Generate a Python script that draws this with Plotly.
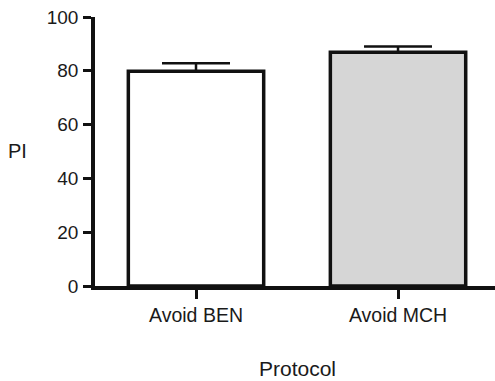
import plotly.graph_objects as go

# Preference index per protocol (mean with upper error)
protocols = ["Avoid BEN", "Avoid MCH"]
pi_mean = [79.8, 86.9]
pi_err = [3.0, 2.1]
fills = ["#ffffff", "#d6d6d6"]

y_ticks = [0, 20, 40, 60, 80, 100]

font = dict(family="Liberation Sans, Arial, sans-serif", color="#1a1a1a")

fig = go.Figure(
    go.Bar(
        x=[0, 1],
        y=pi_mean,
        width=0.67,
        marker=dict(color=fills, line=dict(color="#111111", width=3.5)),
        error_y=dict(
            type="data",
            array=pi_err,
            arrayminus=[0, 0],
            symmetric=False,
            color="#111111",
            thickness=2.5,
            width=34,
        ),
    )
)

fig.update_layout(
    width=495,
    height=381,
    margin=dict(l=95, r=0, t=17, b=95),
    paper_bgcolor="white",
    plot_bgcolor="white",
    showlegend=False,
    font=dict(size=19, **font),
    xaxis=dict(
        range=[-0.5, 1.48],
        tickvals=[0, 1],
        ticktext=protocols,
        ticks="outside",
        ticklen=9,
        tickwidth=3,
        tickcolor="#111111",
        showline=True,
        linewidth=3.5,
        linecolor="#111111",
        showgrid=False,
        zeroline=False,
        tickfont=dict(size=19.5, **font),
    ),
    yaxis=dict(
        range=[0, 100],
        tickvals=y_ticks,
        ticks="outside",
        ticklen=8,
        tickwidth=3,
        tickcolor="#111111",
        showline=True,
        linewidth=3.5,
        linecolor="#111111",
        showgrid=False,
        zeroline=False,
        tickfont=dict(size=19, **font),
        ticklabelstandoff=1,
    ),
    annotations=[
        dict(text="PI", xref="paper", yref="paper", x=-0.195, y=0.502,
             showarrow=False, font=dict(size=20, **font),
             xanchor="center", yanchor="middle"),
        dict(text="Protocol", xref="paper", yref="paper", x=0.505, y=-0.305,
             showarrow=False, font=dict(size=21, **font),
             xanchor="center", yanchor="middle"),
    ],
)

fig.write_html("out.html")
